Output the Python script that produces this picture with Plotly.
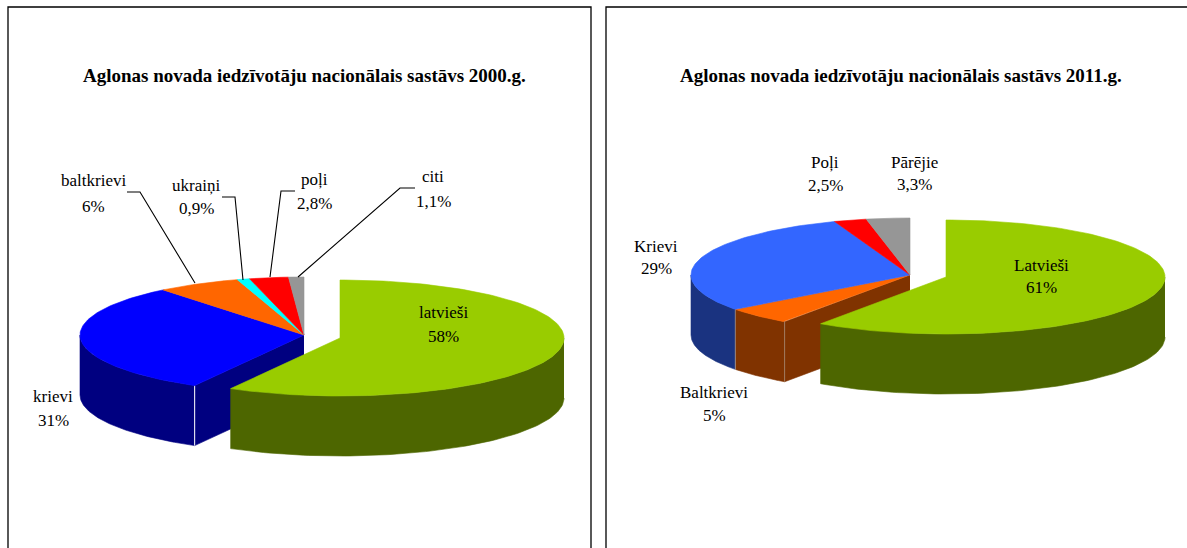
import math
import plotly.graph_objects as go

# ---------- data ----------
names_2000 = ["latvieši", "krievi", "baltkrievi", "ukraiņi", "poļi", "citi"]
values_2000 = [58, 31, 6, 0.9, 2.8, 1.1]
pct_2000 = ["58%", "31%", "6%", "0,9%", "2,8%", "1,1%"]
top_2000 = ["#99CC00", "#0000FF", "#FF6600", "#00FFFF", "#FF0000", "#969696"]
wall_2000 = ["#4D6600", "#000080", "#803300", "#008080", "#800000", "#4B4B4B"]

names_2011 = ["Latvieši", "Baltkrievi", "Krievi", "Poļi", "Pārējie"]
values_2011 = [59.7, 5, 29.7, 2.4, 3.2]
pct_2011 = ["61%", "5%", "29%", "2,5%", "3,3%"]
top_2011 = ["#99CC00", "#FF6600", "#3366FF", "#FF0000", "#969696"]
wall_2011 = ["#4D6600", "#803300", "#1A3380", "#800000", "#4B4B4B"]

title_2000 = "Aglonas novada iedzīvotāju nacionālais sastāvs 2000.g."
title_2011 = "Aglonas novada iedzīvotāju nacionālais sastāvs 2011.g."

# ---------- geometry / style ----------
W, H = 1187, 548
SERIF = "Liberation Serif"
FS = 17

fig = go.Figure()


def add_poly(xs, ys, color, line=None):
    fig.add_trace(go.Scatter(
        x=xs, y=ys, mode="lines", fill="toself", fillcolor=color,
        line=dict(color=line or color, width=0.6), hoverinfo="skip", showlegend=False))


def arc(cx, cy, rx, ry, a0, a1, n=90):
    pts = [a0 + (a1 - a0) * i / n for i in range(n + 1)]
    return ([cx + rx * math.sin(math.radians(a)) for a in pts],
            [cy - ry * math.cos(math.radians(a)) for a in pts])


def pie3d(values, tops, walls, main_c, expl_c, rx, ry, depth, seam, seam_w):
    total = sum(values)
    angles = [0]
    for v in values:
        angles.append(angles[-1] + 360 * v / total)
    n = len(values)
    # non-exploded slices: walls
    cx, cy = main_c
    a_cut = angles[1]
    # cut face along the start edge of the second slice
    ex, ey = arc(cx, cy, rx, ry, a_cut, a_cut, 1)
    add_poly([cx, ex[0], ex[0], cx], [cy, ey[0], ey[0] + depth, cy + depth], walls[1])
    for i in range(1, n):
        a0, a1 = angles[i], min(angles[i + 1], 270)
        if a0 >= 270:
            continue
        xs, ys = arc(cx, cy, rx, ry, a0, a1)
        add_poly(xs + xs[::-1], ys + [y + depth for y in ys[::-1]], walls[i])
        # light seam at start of the wall
        fig.add_trace(go.Scatter(x=[xs[0], xs[0]], y=[ys[0], ys[0] + depth], mode="lines",
                                 line=dict(color=seam, width=seam_w), hoverinfo="skip", showlegend=False))
    for i in range(1, n):
        xs, ys = arc(cx, cy, rx, ry, angles[i], angles[i + 1])
        add_poly([cx] + xs + [cx], [cy] + ys + [cy], tops[i])
    # exploded slice
    cx, cy = expl_c
    xs, ys = arc(cx, cy, rx, ry, 90, angles[1])
    add_poly(xs + xs[::-1], ys + [y + depth for y in ys[::-1]], walls[0])
    xs, ys = arc(cx, cy, rx, ry, 0, angles[1], 150)
    add_poly([cx] + xs + [cx], [cy] + ys + [cy], tops[0])


pie3d(values_2000, top_2000, wall_2000, (304, 335), (340, 338), 224, 58, 60, "#FFFFFF", 1)
pie3d(values_2011, top_2011, wall_2011, (910, 275), (946, 277), 219, 57, 60, "#B0A090", 0.6)

# leader lines (2000 chart)
leaders = [
    ([127, 140, 195], [192, 192, 283]),
    ([222, 235, 243], [197, 197, 280]),
    ([295, 281, 270], [191, 191, 277]),
    ([415, 400, 298], [188, 188, 277]),
]
for lx, ly in leaders:
    fig.add_trace(go.Scatter(x=lx, y=ly, mode="lines", line=dict(color="#000000", width=1.1),
                             hoverinfo="skip", showlegend=False))


def label(x, y, text, size=FS, bold=False):
    fig.add_annotation(x=x, y=y, text=f"<b>{text}</b>" if bold else text, showarrow=False,
                       xanchor="center", yanchor="middle",
                       font=dict(family=SERIF, size=size, color="#000000"))


label_pos_2000 = [(443, 312, 336), (53, 396, 420), (93, 180, 206), (196, 185, 208), (314, 179, 203), (433, 176, 201)]
for nm, p, (x, y1, y2) in zip(names_2000, pct_2000, label_pos_2000):
    label(x, y1, nm)
    label(x, y2, p)
label_pos_2011 = [(1041, 265, 287), (714, 392, 415), (656, 246, 268), (825, 162, 185), (914, 162, 184)]
for nm, p, (x, y1, y2) in zip(names_2011, pct_2011, label_pos_2011):
    label(x, y1, nm)
    label(x, y2, p)

label(304, 75, title_2000, size=19, bold=True)
label(901, 75, title_2011, size=19, bold=True)

# frames
for x0, x1 in [(8, 591), (606, 1300)]:
    fig.add_shape(type="rect", x0=x0, x1=x1, y0=7, y1=700, line=dict(color="#000000", width=1.3),
                  fillcolor="rgba(0,0,0,0)", layer="below")

fig.update_layout(
    width=W, height=H, margin=dict(l=0, r=0, t=0, b=0),
    paper_bgcolor="#FFFFFF", plot_bgcolor="#FFFFFF", showlegend=False,
    xaxis=dict(range=[0, W], visible=False, fixedrange=True),
    yaxis=dict(range=[H, 0], visible=False, fixedrange=True),
)
fig.write_html("out.html", config={"displayModeBar": False},
               post_script="document.body.style.margin='0';document.body.style.overflow='hidden';")
